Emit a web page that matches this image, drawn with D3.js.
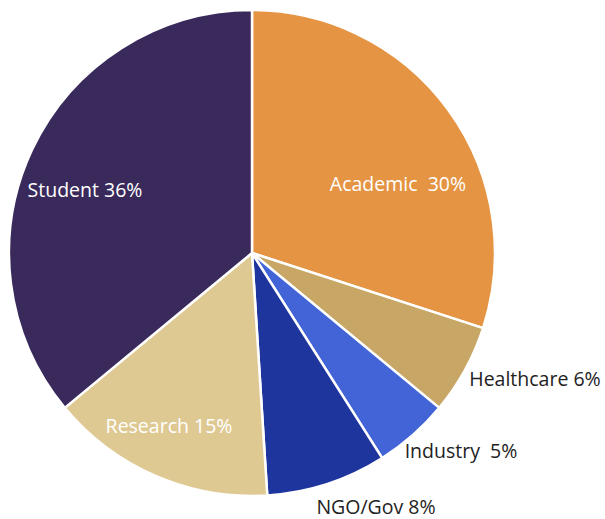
<!DOCTYPE html>
<meta charset="utf-8">
<style>
  body { margin: 0; background: #fff; }
  text { font-family: 'Open Sans', 'Noto Sans', sans-serif; font-size: 19.5px; }
</style>
<svg width="605" height="519"></svg>
<script src="https://d3js.org/d3.v7.min.js"></script>
<script>
var categories = ["Academic", "Healthcare", "Industry", "NGO/Gov", "Research", "Student"];
var values = [30, 6, 5, 8, 15, 36];
var labels = ["Academic  30%", "Healthcare 6%", "Industry  5%", "NGO/Gov 8%", "Research 15%", "Student 36%"];
var colors = ["#e49443", "#c8a766", "#4264d6", "#1e359e", "#dfc993", "#3a2a5c"];
var textColors = ["#fff", "#222", "#222", "#222", "#fff", "#fff"];
// label centre offsets from the pie centre
var labelOffsets = [[146, -69], [283, 126], [209, 198], [124, 254], [-83, 173], [-167, -63]];

var svg = d3.select("svg"),
    cx = 252, cy = 253, radius = 243;

var g = svg.append("g").attr("transform", "translate(" + cx + "," + cy + ")");

var data = categories.map(function(c, i) { return {name: c, value: values[i], i: i}; });

var pie = d3.pie().sort(null).value(function(d) { return d.value; });
var arc = d3.arc().innerRadius(0).outerRadius(radius);

g.selectAll("path")
    .data(pie(data))
  .enter().append("path")
    .attr("d", arc)
    .attr("fill", function(d) { return colors[d.data.i]; })
    .attr("stroke", "#fff")
    .attr("stroke-width", 2.5)
    .attr("stroke-linejoin", "round");

g.selectAll("text")
    .data(data)
  .enter().append("text")
    .attr("x", function(d) { return labelOffsets[d.i][0]; })
    .attr("y", function(d) { return labelOffsets[d.i][1]; })
    .attr("dy", "0.35em")
    .attr("text-anchor", "middle")
    .attr("fill", function(d) { return textColors[d.i]; })
    .style("white-space", "pre")
    .text(function(d) { return labels[d.i]; });
</script>
